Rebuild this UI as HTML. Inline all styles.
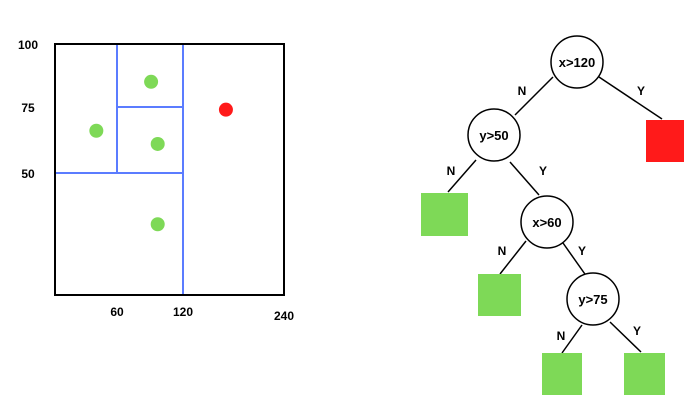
<!DOCTYPE html>
<html><head><meta charset="utf-8"><style>
html,body{margin:0;padding:0;background:#fff;}
svg{display:block;font-family:"Liberation Sans",Arial,sans-serif;font-weight:bold;}
</style></head><body>
<svg id="s" width="697" height="410" viewBox="0 0 697 410">
<g id="plot">
<rect x="55" y="44" width="229" height="251" fill="none" stroke="#000" stroke-width="2"/>
</g>
<g id="tree" stroke="#000" stroke-width="1.5">
<line x1="553" y1="77" x2="515" y2="115"/>
<line x1="599" y1="77" x2="662" y2="119"/>
<line x1="476" y1="160" x2="448" y2="192"/>
<line x1="510" y1="162" x2="539" y2="195"/>
<line x1="526" y1="241" x2="500" y2="274"/>
<line x1="563" y1="243" x2="587" y2="277"/>
<line x1="582" y1="325" x2="562" y2="353"/>
<line x1="610" y1="322" x2="641" y2="352"/>
<circle cx="577" cy="62" r="26" fill="#fff"/>
<circle cx="494" cy="135" r="26" fill="#fff"/>
<circle cx="547" cy="222" r="26" fill="#fff"/>
<circle cx="593" cy="299" r="26" fill="#fff"/>
<rect x="646" y="120" width="38" height="42" fill="#ff1a1a" stroke="none"/>
<rect x="421" y="193" width="47" height="43" fill="#7ed957" stroke="none"/>
<rect x="478" y="274" width="43" height="42" fill="#7ed957" stroke="none"/>
<rect x="542" y="353" width="40" height="42" fill="#7ed957" stroke="none"/>
<rect x="624" y="353" width="41" height="42" fill="#7ed957" stroke="none"/>
</g>
<g font-size="13" text-anchor="middle" fill="#000">
<text x="577" y="67">x&gt;120</text>
<text x="494" y="140">y&gt;50</text>
<text x="547" y="227">x&gt;60</text>
<text x="593" y="304">y&gt;75</text>
<text x="522" y="95" font-size="12">N</text>
<text x="641" y="95" font-size="12">Y</text>
<text x="451" y="175" font-size="12">N</text>
<text x="543" y="175" font-size="12">Y</text>
<text x="502" y="255" font-size="12">N</text>
<text x="582" y="255" font-size="12">Y</text>
<text x="561" y="340" font-size="12">N</text>
<text x="637" y="335" font-size="12">Y</text>
</g>
</svg>
<script>
const xTicks=[60,120,240];
const yTicks=[100,75,50];
const splitX=[60,120];
const splitY=[50,75];
const greenX=[91,40,97,97];
const greenY=[85,66,61,29];
const redX=[171];
const redY=[74];
const NS='http://www.w3.org/2000/svg';
function pw(d,r){return v=>{for(let i=0;i<d.length-1;i++){if(v<=d[i+1]||i===d.length-2){return r[i]+(v-d[i])/(d[i+1]-d[i])*(r[i+1]-r[i]);}}};}
const sx=pw([0,60,120,240],[55,117,183,284]);
const sy=pw([0,50,75,100],[295,173,107,44]);
const plot=document.getElementById('plot');
function mk(t,a){const e=document.createElementNS(NS,t);for(const k in a)e.setAttribute(k,a[k]);plot.appendChild(e);return e;}
let e;
e=mk('line',{x1:sx(splitX[1]),y1:sy(100),x2:sx(splitX[1]),y2:sy(0),stroke:'#5b7cff','stroke-width':2});


e=mk('line',{x1:sx(0),y1:sy(splitY[0]),x2:sx(splitX[1]),y2:sy(splitY[0]),stroke:'#5b7cff','stroke-width':2});


e=mk('line',{x1:sx(splitX[0]),y1:sy(100),x2:sx(splitX[0]),y2:sy(splitY[0]),stroke:'#5b7cff','stroke-width':2});


e=mk('line',{x1:sx(splitX[0]),y1:sy(splitY[1]),x2:sx(splitX[1]),y2:sy(splitY[1]),stroke:'#5b7cff','stroke-width':2});


plot.appendChild(plot.firstElementChild);
for(let i=0;i<greenX.length;i++){
 e=mk('circle',{cx:sx(greenX[i]),cy:sy(greenY[i]),r:7,fill:'#7ed957'});
 
 
}
for(let i=0;i<redX.length;i++){
 e=mk('circle',{cx:sx(redX[i]),cy:sy(redY[i]),r:7,fill:'#ff1a1a'});
 
 
}
xTicks.forEach((t,i)=>{
 e=mk('text',{x:sx(t),y:316+(i===2?4:0),'font-size':12,'text-anchor':'middle'});
 e.textContent=t;
 
 
});
yTicks.forEach(t=>{
 e=mk('text',{x:28,y:sy(t)+5,'font-size':12,'text-anchor':'middle'});
 e.textContent=t;
 
 
});
</script>
</body></html>
